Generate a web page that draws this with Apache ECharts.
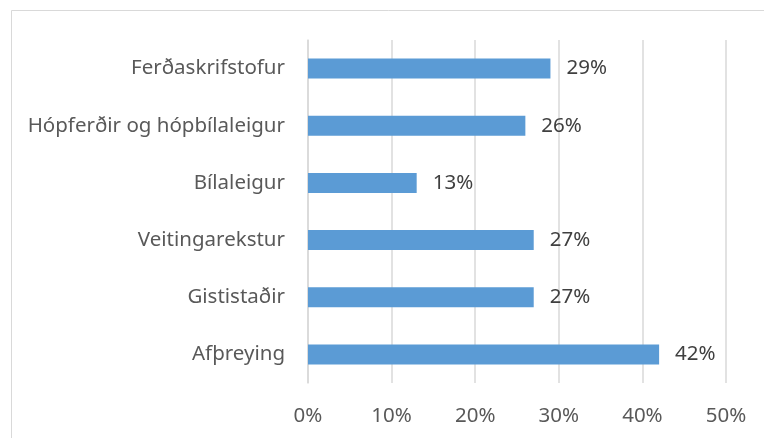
<!DOCTYPE html>
<html>
<head>
<meta charset="utf-8">
<script src="https://cdn.jsdelivr.net/npm/echarts@6/dist/echarts.min.js"></script>
<style>
html,body{margin:0;padding:0;background:#fff;}
#chart{width:764px;height:438px;}
</style>
</head>
<body>
<div id="chart"></div>
<script>
const categories = ["Afþreying", "Gististaðir", "Veitingarekstur", "Bílaleigur", "Hópferðir og hópbílaleigur", "Ferðaskrifstofur"];
const values = [42, 27, 27, 13, 26, 29];
const xTicks = [0, 10, 20, 30, 40, 50];

const FONT = "'Noto Sans', sans-serif";
const chart = echarts.init(document.getElementById('chart'), null, {renderer: 'canvas'});
chart.setOption({
  animation: false,
  backgroundColor: '#ffffff',
  graphic: [{
    type: 'rect',
    shape: {x: 11.5, y: 10.5, width: 800, height: 600},
    style: {fill: 'none', stroke: '#d9d9d9', lineWidth: 1},
    silent: true
  }],
  grid: {left: 308, right: 38, top: 40, bottom: 55, containLabel: false},
  xAxis: {
    type: 'value',
    min: xTicks[0],
    max: xTicks[xTicks.length - 1],
    interval: 10,
    axisLine: {show: false},
    axisTick: {show: false},
    splitLine: {show: true, lineStyle: {color: '#d9d9d9', width: 1.5}},
    axisLabel: {
      formatter: v => v + '%',
      color: '#595959',
      fontSize: 20.5,
      fontFamily: FONT,
      margin: 23
    }
  },
  yAxis: {
    type: 'category',
    data: categories,
    axisLine: {show: true, lineStyle: {color: '#d9d9d9', width: 1.5}},
    axisTick: {show: false},
    axisLabel: {
      color: '#595959',
      fontSize: 20.5,
      fontFamily: FONT,
      margin: 23
    }
  },
  series: [{
    type: 'bar',
    data: values,
    barWidth: '35%',
    itemStyle: {color: '#5b9bd5'},
    label: {
      show: true,
      position: 'right',
      distance: 16,
      formatter: p => p.value + '%',
      color: '#404040',
      fontSize: 20.5,
      fontFamily: FONT
    }
  }]
});
</script>
</body>
</html>
